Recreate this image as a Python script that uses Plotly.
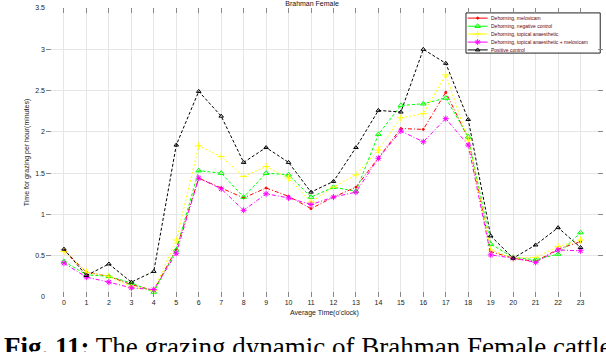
import plotly.graph_objects as go

hours = list(range(24))
tick_labels = [str(h) for h in hours]

meloxicam = [0.57, 0.30, 0.25, 0.15, 0.08, 0.58, 1.44, 1.32, 1.20, 1.32, 1.22, 1.07, 1.21, 1.33,
             1.68, 2.04, 2.03, 2.48, 1.92, 0.55, 0.47, 0.43, 0.58, 0.67]
negative = [0.43, 0.27, 0.25, 0.17, 0.06, 0.57, 1.53, 1.50, 1.21, 1.50, 1.48, 1.21, 1.33, 1.28,
            1.97, 2.32, 2.34, 2.41, 1.94, 0.64, 0.48, 0.45, 0.52, 0.78]
topical = [0.55, 0.30, 0.25, 0.12, 0.08, 0.69, 1.83, 1.70, 1.46, 1.58, 1.44, 1.15, 1.33, 1.48,
           1.78, 2.17, 2.22, 2.69, 1.90, 0.57, 0.47, 0.48, 0.61, 0.69]
topical_melox = [0.41, 0.24, 0.18, 0.11, 0.09, 0.53, 1.44, 1.31, 1.05, 1.25, 1.20, 1.12, 1.21, 1.27,
                 1.68, 2.01, 1.88, 2.16, 1.84, 0.51, 0.47, 0.42, 0.57, 0.56]
positive = [0.58, 0.26, 0.40, 0.18, 0.31, 1.84, 2.49, 2.19, 1.63, 1.81, 1.63, 1.27, 1.40, 1.81,
            2.26, 2.24, 3.00, 2.83, 2.15, 0.74, 0.47, 0.63, 0.84, 0.60]

names = ["Dehorning, meloxicam", "Dehorning, negative control", "Dehorning, topical anaesthetic",
         "Dehorning, topical anaesthetic + meloxicam", "Positive control"]
series = [meloxicam, negative, topical, topical_melox, positive]
colors = ["#ff0000", "#00ff00", "#ffff00", "#ff00ff", "#000000"]
dashes = ["4px,2px,1px,2px", "3px,2px", "2px,2px", "4px,2px,1px,2px", "3px,2px"]
symbols = ["circle", "triangle-up-open", "cross-thin-open", "asterisk-open", "triangle-up-open"]
msizes = [2, 5, 5, 5, 4]

fig = go.Figure()
for name, vals, c, d, s, ms in zip(names, series, colors, dashes, symbols, msizes):
    fig.add_trace(go.Scatter(
        x=hours, y=vals, name=name, mode="lines+markers", showlegend=False,
        line=dict(color=c, width=1, dash=d),
        marker=dict(symbol=s, size=ms, color=c, line=dict(color=c, width=1)),
    ))

# compact legend drawn on an overlay axis (fractions of the plot area)
leg_x0, leg_x1, leg_top, leg_bot = 0.754, 0.995, 0.983, 0.844
row_y = [0.965, 0.937, 0.910, 0.882, 0.855]
fig.add_trace(go.Scatter(
    x=[leg_x0, leg_x1, leg_x1, leg_x0, leg_x0], y=[leg_bot, leg_bot, leg_top, leg_top, leg_bot],
    xaxis="x2", yaxis="y2", mode="lines", fill="toself", fillcolor="white",
    line=dict(color="#222", width=1), showlegend=False, hoverinfo="skip"))
for name, c, d, s, ms, ry in zip(names, colors, dashes, symbols, msizes, row_y):
    fig.add_trace(go.Scatter(
        x=[0.757, 0.775, 0.793], y=[ry, ry, ry], xaxis="x2", yaxis="y2", mode="lines",
        line=dict(color=c, width=1), showlegend=False, hoverinfo="skip"))
    fig.add_trace(go.Scatter(
        x=[0.775], y=[ry], xaxis="x2", yaxis="y2", mode="markers",
        marker=dict(symbol=s, size=ms, color=c, line=dict(color=c, width=1)),
        showlegend=False, hoverinfo="skip"))
    fig.add_annotation(xref="x domain", yref="y domain", x=0.796, y=ry, xanchor="left",
                       yanchor="middle", text=name, showarrow=False,
                       font=dict(family="Liberation Sans, Arial, sans-serif", size=5, color="#6a0000"))

axis_font = dict(family="Liberation Sans, Arial, sans-serif", size=7, color="#222")
fig.update_layout(
    width=606, height=352,
    margin=dict(l=46, r=3, t=8, b=55, autoexpand=False),
    paper_bgcolor="white", plot_bgcolor="white",
    font=dict(family="Liberation Sans, Arial, sans-serif", size=7, color="#222"),
    title=dict(text="Brahman Female", x=0.515, xanchor="center", y=0.997, yanchor="top",
               font=dict(size=7, color="#111")),
    showlegend=False,
    xaxis=dict(range=[-0.8, 24.0], tickmode="array", tickvals=hours, ticktext=tick_labels,
               showgrid=True, gridcolor="#e6e6e6", gridwidth=1, zeroline=False,
               ticks="inside", ticklen=5, tickcolor="#888", mirror="ticks", showline=False,
               tickfont=axis_font,
               title=dict(text="Average Time(o'clock)", font=dict(size=7), standoff=5)),
    yaxis=dict(range=[0, 3.5], tickmode="array", tickvals=[0, 0.5, 1, 1.5, 2, 2.5, 3, 3.5],
               ticktext=["0", "0.5", "1", "1.5", "2", "2.5", "3", "3.5"],
               showgrid=True, gridcolor="#e6e6e6", gridwidth=1, zeroline=False,
               ticks="inside", ticklen=5, tickcolor="#888", mirror="ticks", showline=False,
               tickfont=axis_font,
               title=dict(text="Time for grazing per hour(minutes)", font=dict(size=7), standoff=4)),
    xaxis2=dict(range=[0, 1], overlaying="x", visible=False, fixedrange=True),
    yaxis2=dict(range=[0, 1], overlaying="y", visible=False, fixedrange=True),
)

fig.add_annotation(
    xref="paper", yref="paper", x=-0.079, y=-0.113, xanchor="left", yanchor="top",
    text="<b>Fig. 11:</b> The grazing dynamic of Brahman Female cattle",
    showarrow=False, font=dict(family="Liberation Serif, Times New Roman, serif", size=27, color="#000"),
)

fig.write_html("out.html", config={"displayModeBar": False},
               post_script="document.body.style.margin='0';document.body.style.padding='0';"
                           "document.body.style.overflow='hidden';")
